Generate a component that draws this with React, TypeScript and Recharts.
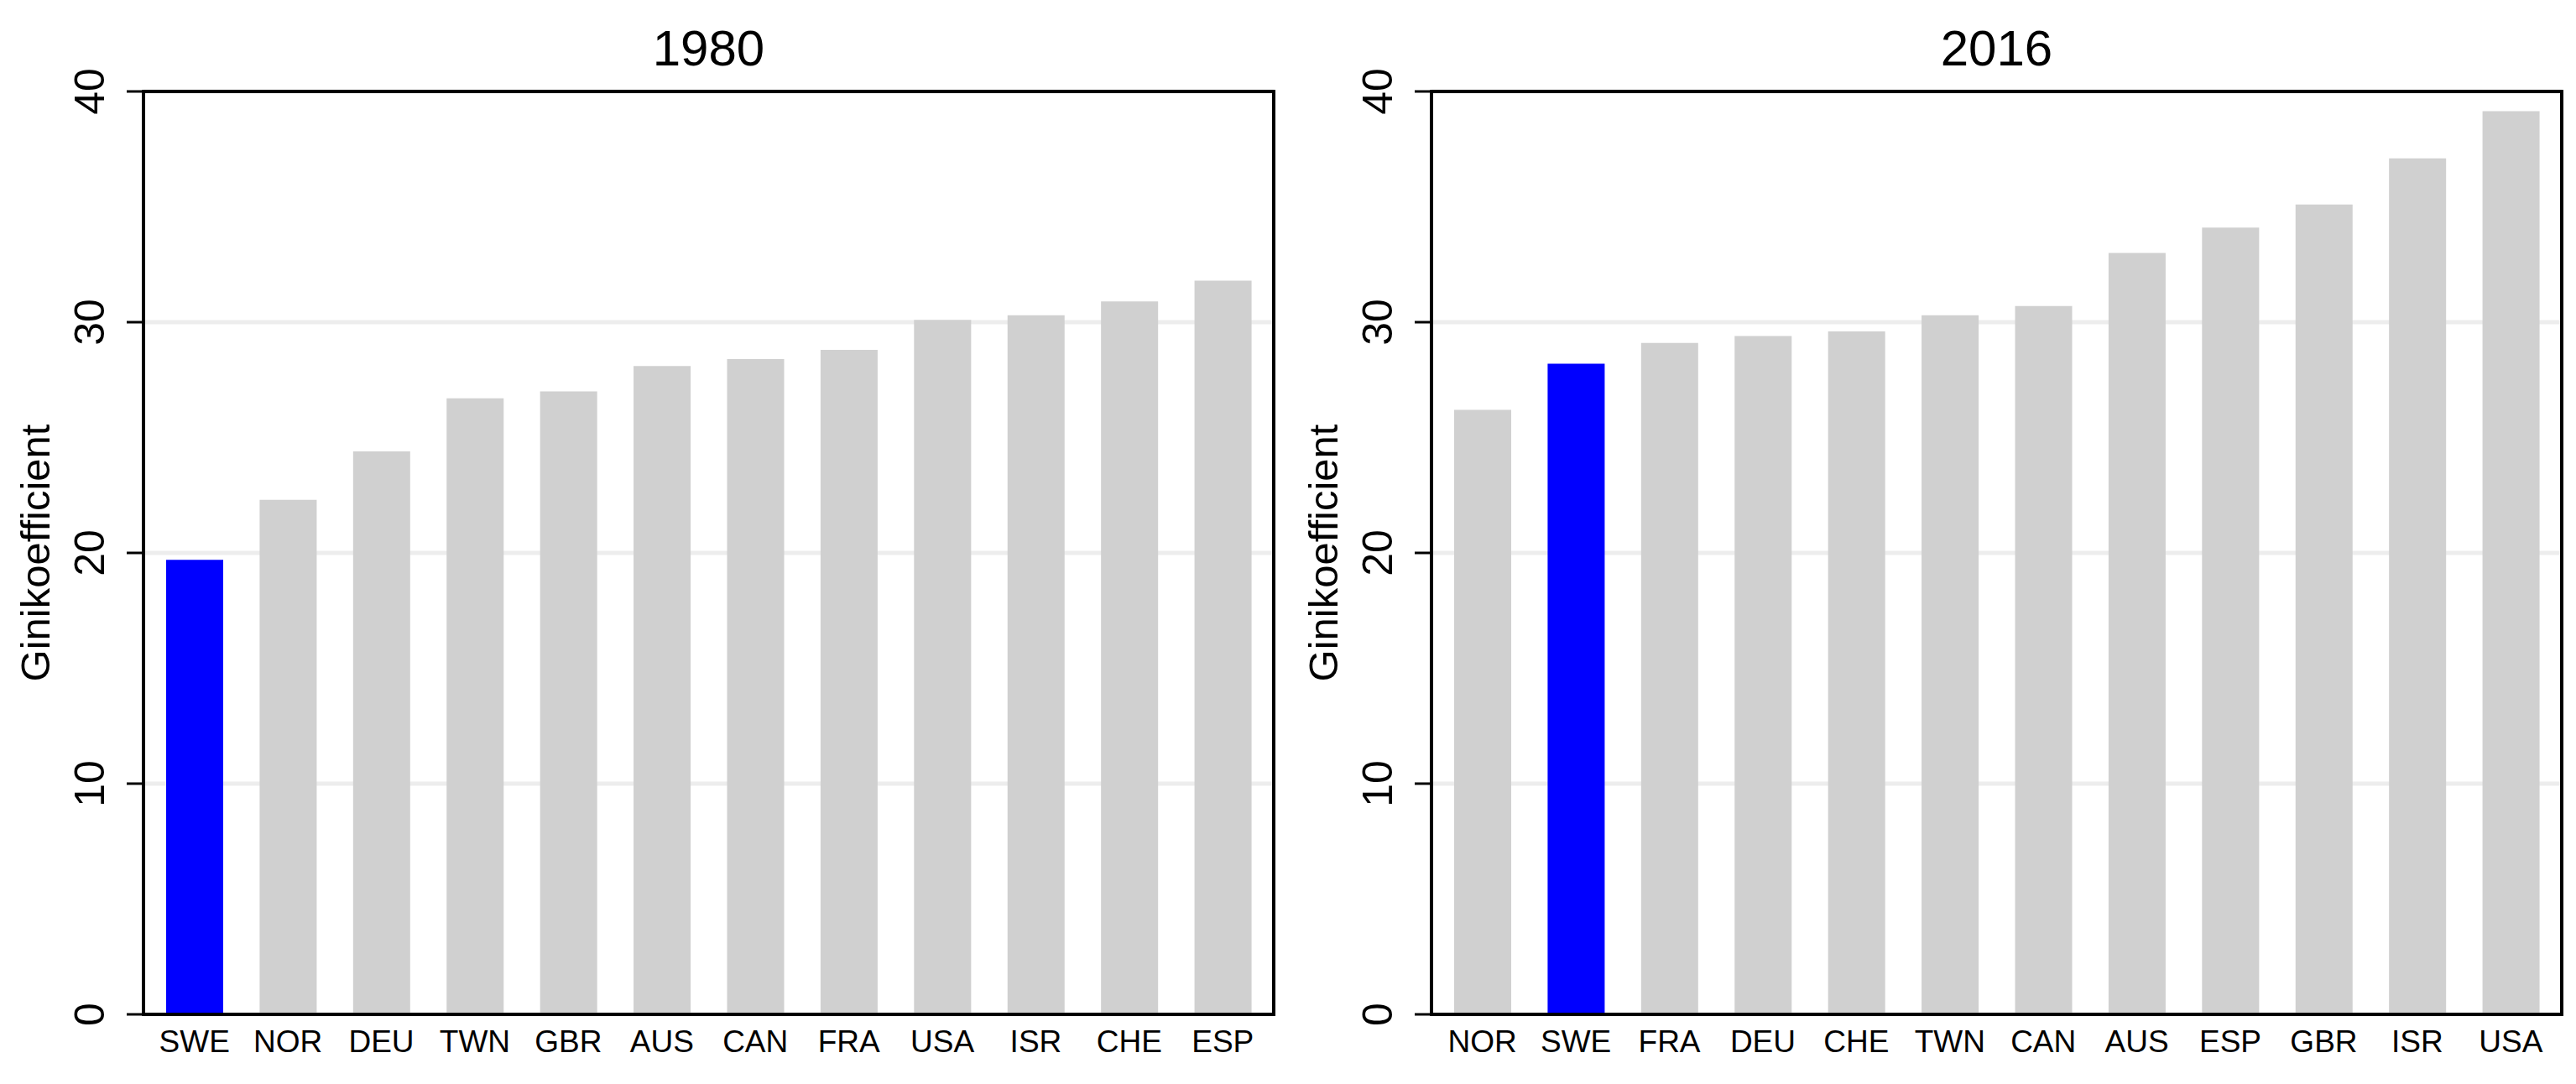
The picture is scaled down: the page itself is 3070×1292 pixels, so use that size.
import { BarChart, Bar, Cell, XAxis, YAxis, CartesianGrid, Label } from 'recharts';

const countries1980 = ['SWE', 'NOR', 'DEU', 'TWN', 'GBR', 'AUS', 'CAN', 'FRA', 'USA', 'ISR', 'CHE', 'ESP'];
const gini1980 = [19.7, 22.3, 24.4, 26.7, 27.0, 28.1, 28.4, 28.8, 30.1, 30.3, 30.9, 31.8];

const countries2016 = ['NOR', 'SWE', 'FRA', 'DEU', 'CHE', 'TWN', 'CAN', 'AUS', 'ESP', 'GBR', 'ISR', 'USA'];
const gini2016 = [26.2, 28.2, 29.1, 29.4, 29.6, 30.3, 30.7, 33.0, 34.1, 35.1, 37.1, 39.15];

const yTicks = [0, 10, 20, 30, 40];
const highlight = 'SWE';

const FONT = '"Liberation Sans", Arial, sans-serif';
const W = 1535;
const H = 1292;
const frame = { stroke: '#000', strokeWidth: 4, strokeLinecap: 'square' as const };

function XTick({ x, y, payload }: any) {
  return (
    <text x={x} y={y + 32} textAnchor="middle" dominantBaseline="central" fontSize={37} fontFamily={FONT} fill="#000">
      {payload.value}
    </text>
  );
}

function YTick({ x, y, payload }: any) {
  const cx = x - 42;
  return (
    <text
      x={cx}
      y={y}
      textAnchor="middle"
      dominantBaseline="central"
      fontSize={50}
      fontFamily={FONT}
      fill="#000"
      transform={`rotate(-90, ${cx}, ${y})`}
    >
      {payload.value}
    </text>
  );
}

function YTitle({ viewBox }: any) {
  const cx = viewBox.x + 21;
  const cy = viewBox.y + viewBox.height / 2;
  return (
    <text
      x={cx}
      y={cy}
      textAnchor="middle"
      dominantBaseline="central"
      fontSize={49}
      fontFamily={FONT}
      fill="#000"
      transform={`rotate(-90, ${cx}, ${cy})`}
    >
      Ginikoefficient
    </text>
  );
}

function Panel({ title, countries, values, left }: { title: string; countries: string[]; values: number[]; left: number }) {
  const data = countries.map((c, i) => ({ country: c, gini: values[i] }));
  return (
    <div style={{ position: 'absolute', left, top: 0, width: W, height: H }}>
      <div
        style={{
          position: 'absolute',
          left: 171,
          top: 0,
          width: 1347,
          height: 116,
          lineHeight: '116px',
          textAlign: 'center',
          fontFamily: FONT,
          fontSize: 60,
          color: '#000',
        }}
      >
        {title}
      </div>
      <BarChart width={W} height={H} data={data} margin={{ top: 108, right: 16, bottom: 23, left: 21 }}>
        <CartesianGrid vertical={false} stroke="#ededed" strokeWidth={5} yAxisId="left" />
        <XAxis
          dataKey="country"
          axisLine={frame}
          tickLine={false}
          tickSize={0}
          tickMargin={0}
          height={60}
          interval={0}
          padding={{ left: 5, right: 5 }}
          tick={<XTick />}
        />
        <XAxis
          xAxisId="top"
          orientation="top"
          dataKey="country"
          height={1}
          tick={false}
          tickLine={false}
          axisLine={frame}
        />
        <YAxis
          yAxisId="left"
          domain={[0, 40]}
          ticks={yTicks}
          width={150}
          axisLine={frame}
          tickLine={{ stroke: '#000', strokeWidth: 3 }}
          tickSize={20}
          tickMargin={2}
          tick={<YTick />}
          label={<Label content={<YTitle />} />}
        />
        <YAxis
          yAxisId="frame"
          orientation="right"
          domain={[0, 40]}
          width={1}
          tick={false}
          tickLine={false}
          axisLine={frame}
        />
        <Bar dataKey="gini" yAxisId="left" barSize={68} isAnimationActive={false}>
          {data.map((d) => (
            <Cell key={d.country} fill={d.country === highlight ? '#0000ff' : '#d0d0d0'} />
          ))}
        </Bar>
      </BarChart>
    </div>
  );
}

export default function App() {
  return (
    <div style={{ position: 'absolute', left: 0, top: 0, width: 3070, height: H, background: '#fff' }}>
      <Panel title="1980" countries={countries1980} values={gini1980} left={0} />
      <Panel title="2016" countries={countries2016} values={gini2016} left={W} />
    </div>
  );
}
